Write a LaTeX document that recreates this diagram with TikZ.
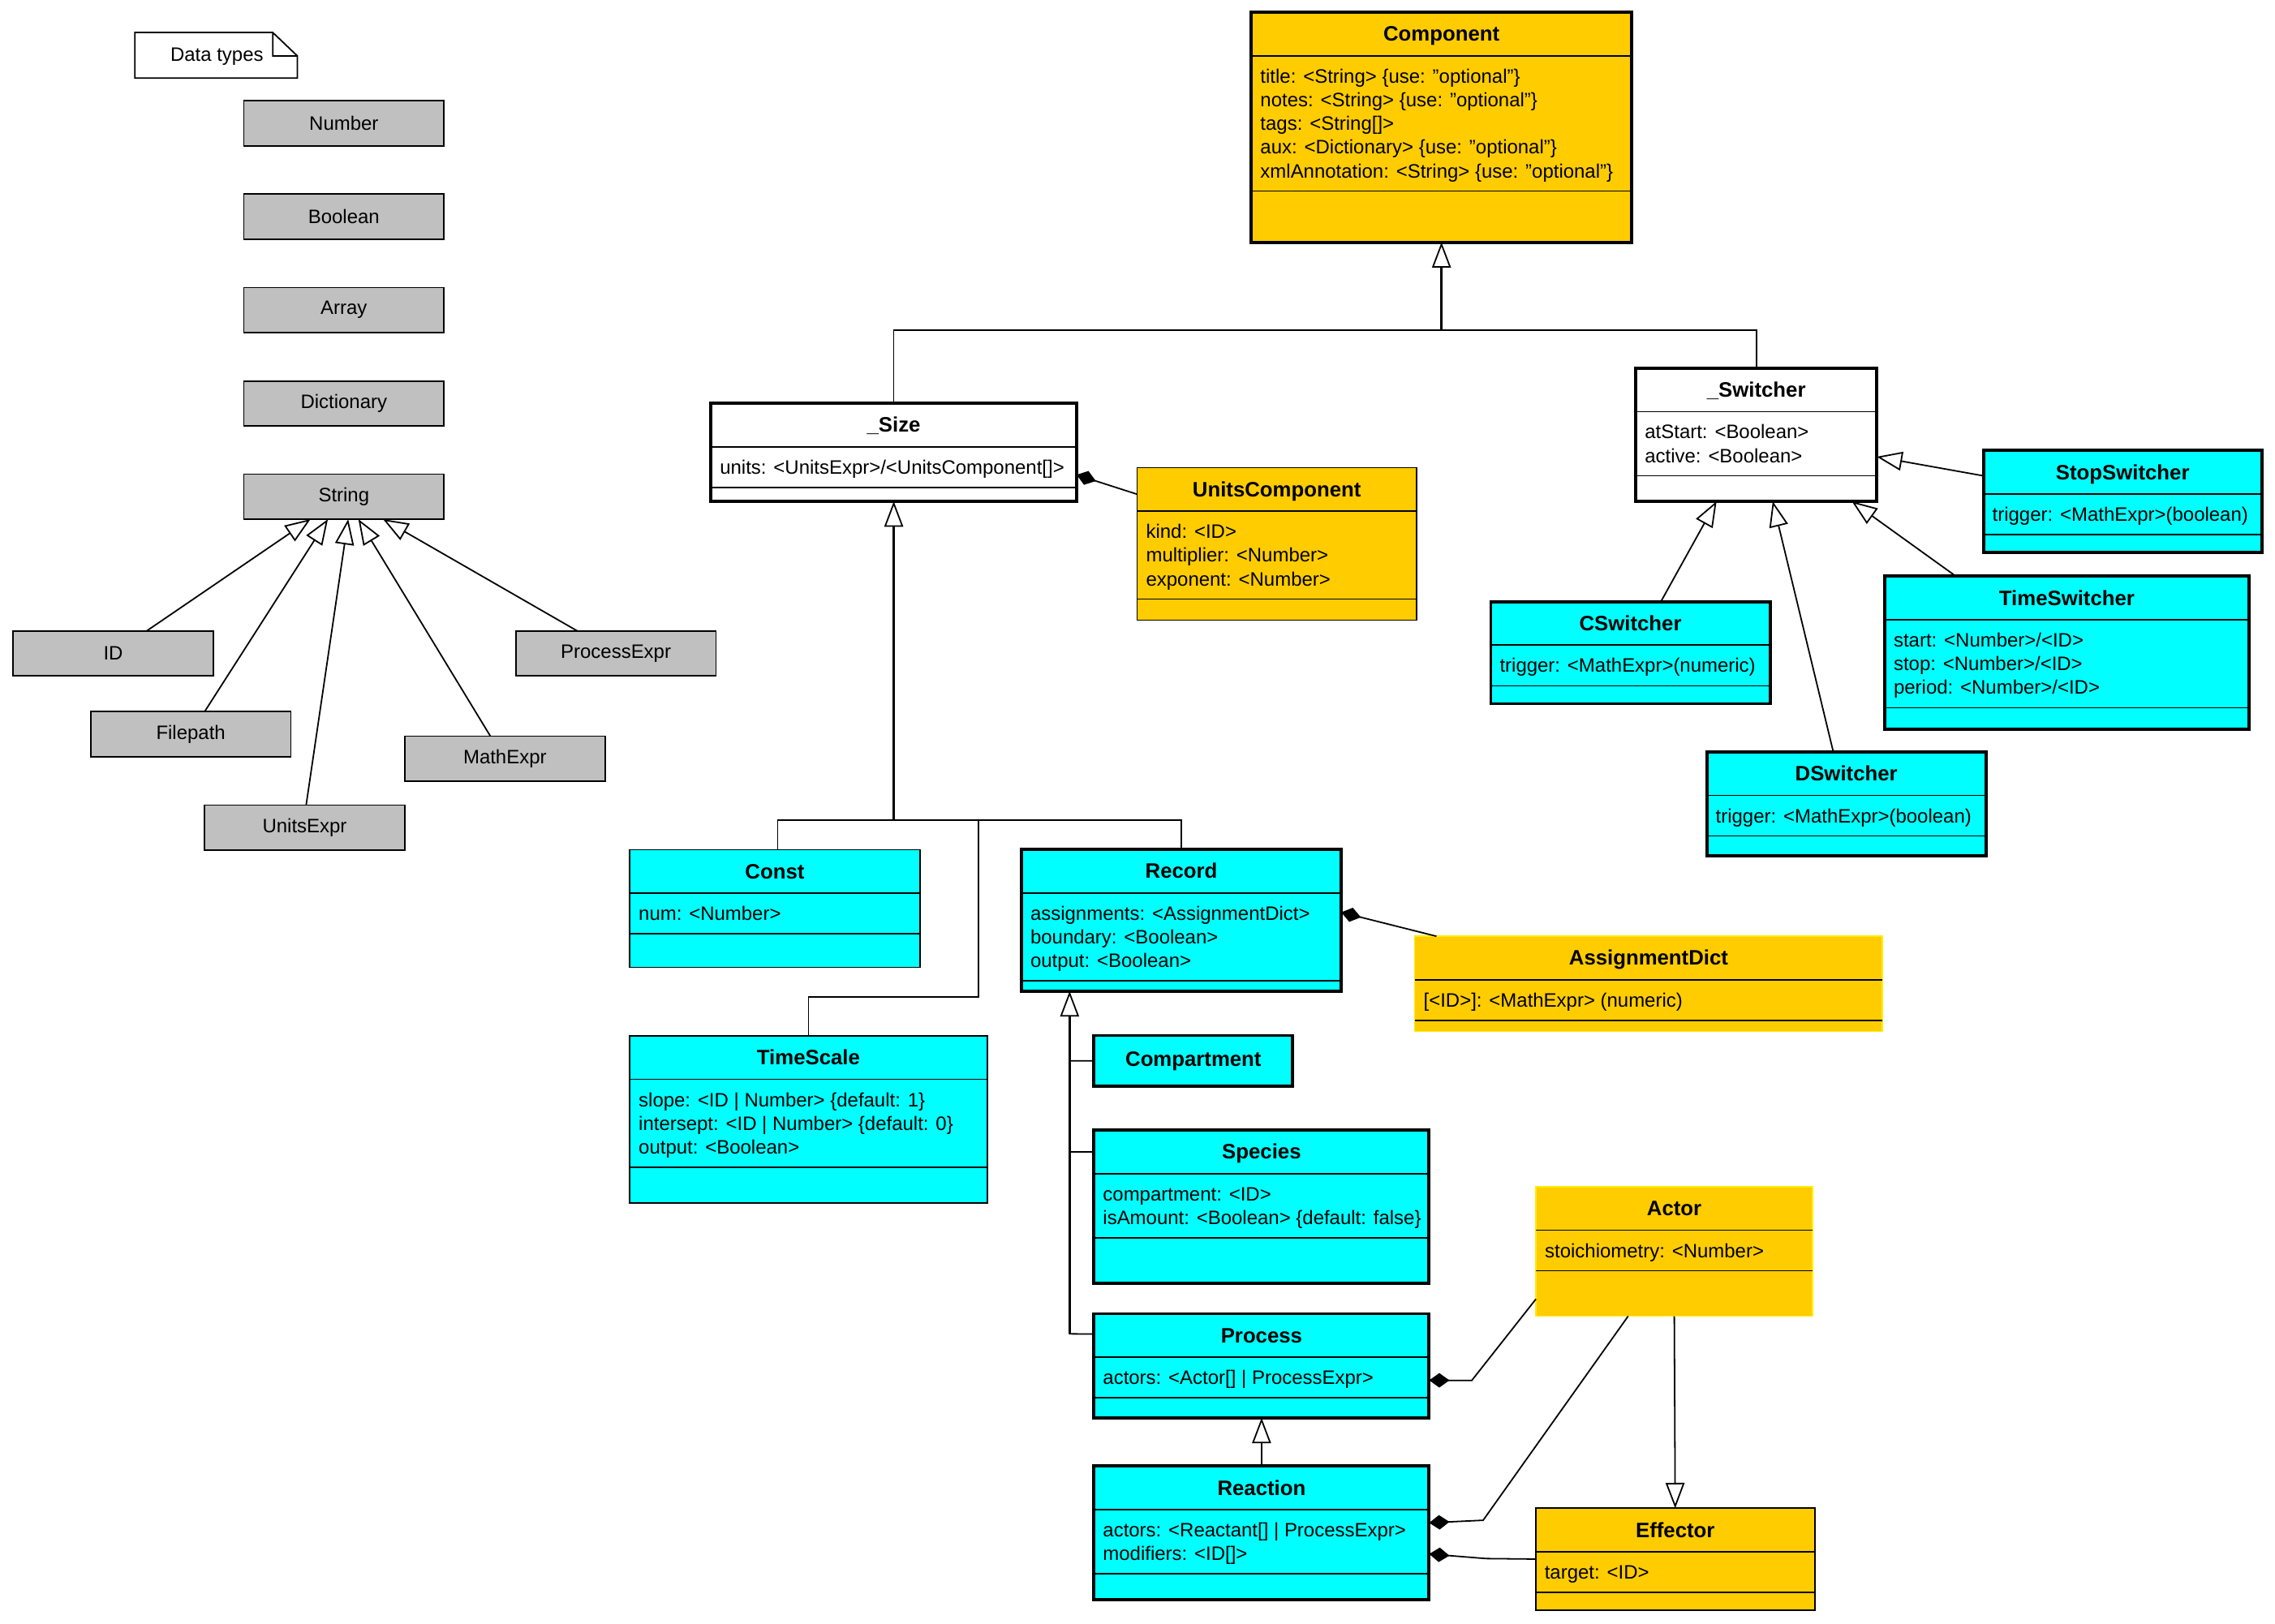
\documentclass[tikz,border=0pt]{standalone}
\usepackage{fontspec}
\setmainfont{Liberation Sans}
\usetikzlibrary{arrows.meta,calc,positioning}

\definecolor{clsorange}{HTML}{FFCC00}
\definecolor{clscyan}{HTML}{00FFFF}
\definecolor{dtgray}{HTML}{C0C0C0}
\definecolor{actyellow}{HTML}{FFEE00}

% class box: style, name, left, top, right, bottom, title, attributes, lines
\newcommand{\umlclass}[9]{%
  \node[#1, anchor=north west, minimum width={(#5)-(#3)}, minimum height={(#6)-(#4)}] (#2) at (#3,#4) {};
  \node[titletext, anchor=base] at ($(#2.north)+(0,20)$) {#7};
  \draw[sepline] ($(#2.north west)+(0,30)$) -- ($(#2.north east)+(0,30)$);
  \node[attrtext, anchor=base west] at ($(#2.north west)+(6,48.8+16.3*#9-16.3)$) {#8};
  \draw[sepline] ($(#2.north west)+(0,41.7+16.3*#9)$) -- ($(#2.north east)+(0,41.7+16.3*#9)$);
}

\begin{document}
\begin{tikzpicture}[x=1pt, y=-1pt,
    cls/.style={draw, line width=1pt, inner sep=0pt, outer sep=0pt},
    heavy/.style={line width=2.2pt},
    titletext/.style={font=\fontsize{14.4}{17}\selectfont\bfseries, inner sep=0pt},
    attrtext/.style={font=\fontsize{13.4}{16.3}\selectfont, align=left, inner sep=0pt},
    sepline/.style={line width=0.9pt},
    dtype/.style={draw, fill=dtgray, line width=1pt, minimum width=138pt, minimum height=31pt,
      inner sep=0pt, outer sep=0pt, font=\fontsize{13.4}{16}\selectfont},
    link/.style={line width=1pt},
    gen/.style={link, -{Triangle[fill=white, length=17.5pt, width=13pt, line width=1pt]}},
    stem/.style={gen, line width=1.7pt},
    comp/.style={link, -{Diamond[length=14pt, width=10pt]}}]
  \path[use as bounding box, fill=white] (0,0) rectangle (1568,1119.5);

  % data types
  \draw[link, fill=white] (93,22.4) -- (188,22.4) -- (205,38.6) -- (205,53.8) -- (93,53.8) -- cycle
    (188,22.4) -- (188,38.6) -- (205,38.6);
  \node[font=\fontsize{13.4}{16}\selectfont, inner sep=0pt] (note) at (149.5,39) {Data types};
  \node[dtype] (Number) at (237,85) {Number};
  \node[dtype] (Boolean) at (237,149.3) {Boolean};
  \node[dtype] (Array) at (237,213.7) {Array};
  \node[dtype] (Dictionary) at (237,278.1) {Dictionary};
  \node[dtype] (String) at (237,342.4) {String};
  \node[dtype] (ID) at (78,450.5) {ID};
  \node[dtype] (Filepath) at (131.5,506.1) {Filepath};
  \node[dtype] (UnitsExpr) at (210,570.5) {UnitsExpr};
  \node[dtype] (MathExpr) at (348,523) {MathExpr};
  \node[dtype] (ProcessExpr) at (424.5,450.5) {ProcessExpr};
  \draw[gen] ([xshift=23]ID.north) -- ([xshift=-23]String.south);
  \draw[gen] ([xshift=9.5]Filepath.north) -- ([xshift=-11]String.south);
  \draw[gen] ([xshift=1]UnitsExpr.north) -- ([xshift=3]String.south);
  \draw[gen] ([xshift=-10]MathExpr.north) -- ([xshift=10]String.south);
  \draw[gen] ([xshift=-26.5]ProcessExpr.north) -- ([xshift=27]String.south);

  % classes
  \umlclass{cls, heavy, fill=clsorange}{Component}{862.5}{8.5}{1124.5}{167}{Component}%
    {title: <String> \{use: "optional"\}\\notes: <String> \{use: "optional"\}\\tags: <String[]>\\aux: <Dictionary> \{use: "optional"\}\\xmlAnnotation: <String> \{use: "optional"\}}{5}
  \umlclass{cls, heavy, fill=white}{Size}{490}{278}{742}{345.6}{\_Size}{units: <UnitsExpr>/<UnitsComponent[]>}{1}
  \umlclass{cls, fill=clsorange}{UnitsComponent}{783.7}{322.4}{976.3}{427.5}{UnitsComponent}%
    {kind: <ID>\\multiplier: <Number>\\exponent: <Number>}{3}
  \umlclass{cls, heavy, fill=white}{Switcher}{1127.5}{253.7}{1293.5}{345.6}{\_Switcher}{atStart: <Boolean>\\active: <Boolean>}{2}
  \umlclass{cls, heavy, fill=clscyan}{StopSwitcher}{1367}{310.6}{1559}{381}{StopSwitcher}{trigger: <MathExpr>(boolean)}{1}
  \umlclass{cls, heavy, fill=clscyan}{CSwitcher}{1027.5}{414.7}{1220}{485.1}{CSwitcher}{trigger: <MathExpr>(numeric)}{1}
  \umlclass{cls, heavy, fill=clscyan}{TimeSwitcher}{1299}{397.2}{1550}{502.6}{TimeSwitcher}%
    {start: <Number>/<ID>\\stop: <Number>/<ID>\\period: <Number>/<ID>}{3}
  \umlclass{cls, heavy, fill=clscyan}{DSwitcher}{1176.3}{518.3}{1368.8}{590}{DSwitcher}{trigger: <MathExpr>(boolean)}{1}
  \umlclass{cls, fill=clscyan}{Const}{434}{585.7}{634}{666.8}{Const}{num: <Number>}{1}
  \umlclass{cls, heavy, fill=clscyan}{Record}{704}{585.5}{924.4}{683.3}{Record}%
    {assignments: <AssignmentDict>\\boundary: <Boolean>\\output: <Boolean>}{3}
  \umlclass{cls, draw=actyellow, fill=clsorange}{AssignmentDict}{975}{645.4}{1297.5}{711}{AssignmentDict}{[<ID>]: <MathExpr> (numeric)}{1}
  \umlclass{cls, fill=clscyan}{TimeScale}{434}{714}{680.4}{829.4}{TimeScale}%
    {slope: <ID | Number> \{default: 1\}\\intersept: <ID | Number> \{default: 0\}\\output: <Boolean>}{3}
  \node[cls, heavy, fill=clscyan, anchor=north west, minimum width=137pt, minimum height=35pt,
    font=\fontsize{14.4}{17}\selectfont\bfseries] (Compartment) at (754,713.8) {Compartment};
  \umlclass{cls, heavy, fill=clscyan}{Species}{754}{779}{985}{884.5}{Species}%
    {compartment: <ID>\\isAmount: <Boolean> \{default: false\}}{2}
  \umlclass{cls, heavy, fill=clscyan}{Process}{754}{905.6}{985}{977.4}{Process}{actors: <Actor[] | ProcessExpr>}{1}
  \umlclass{cls, heavy, fill=clscyan}{Reaction}{754}{1010.6}{985}{1102.5}{Reaction}%
    {actors: <Reactant[] | ProcessExpr>\\modifiers: <ID[]>}{2}
  \umlclass{cls, draw=actyellow, fill=clsorange}{Actor}{1058.6}{818}{1249.3}{907.3}{Actor}{stoichiometry: <Number>}{1}
  \umlclass{cls, fill=clsorange}{Effector}{1058.4}{1039.7}{1250.8}{1109.8}{Effector}{target: <ID>}{1}

  % inheritance
  \coordinate (compbus) at (993.5,227.8);
  \draw[link] (Size.north) |- (compbus) -| (Switcher.north);
  \draw[stem] (compbus) -- (Component.south);
  \coordinate (sizebus) at (616,565.5);
  \coordinate (tsbend) at (674.6,687.2);
  \draw[link] ([xshift=2]Const.north) |- (sizebus) -| (Record.north);
  \draw[link] (TimeScale.north) |- (tsbend) |- (sizebus);
  \draw[stem] (sizebus) -- (Size.south);
  \coordinate (recbus) at (737.2,919.5);
  \coordinate (specbranch) at (737.2,794);
  \draw[link] (Compartment.west) -| (recbus) -- ([yshift=-14]Process.north west);
  \draw[link] (specbranch) -- ([yshift=-15]Species.north west);
  \draw[stem] (recbus) -- ([xshift=-77]Record.south);
  \draw[gen] (Reaction.north) -- (Process.south);
  \draw[gen] ([yshift=17.8]StopSwitcher.west) -- ([yshift=-15.2]Switcher.east);
  \draw[gen] ([xshift=21]CSwitcher.north) -- ([xshift=-27.4]Switcher.south);
  \draw[gen] ([xshift=-9]DSwitcher.north) -- ([xshift=11.3]Switcher.south);
  \draw[gen] ([xshift=-76.5]TimeSwitcher.north) -- ([xshift=65.8]Switcher.south);
  \draw[gen] (Actor.south) -- (Effector.north);

  % composition
  \draw[comp] ([yshift=-18.3]UnitsComponent.north west) -- ([yshift=-15.5]Size.east);
  \draw[comp] ([xshift=15]AssignmentDict.north west) -- ([yshift=5.5]Record.east);
  \coordinate (actbend) at (1014.4,951.6);
  \draw[comp] ([yshift=11.8]Actor.south west) -- (actbend) -- ([yshift=-10]Process.east);
  \coordinate (reacbend) at (1022.2,1048);
  \draw[comp] ([xshift=-31.8]Actor.south) -- (reacbend) -- ([yshift=6.8]Reaction.east);
  \coordinate (effbend) at (1024.3,1074.4);
  \draw[comp] (Effector.west) -- (effbend) -- ([yshift=-14.7]Reaction.east);
\end{tikzpicture}
\end{document}
